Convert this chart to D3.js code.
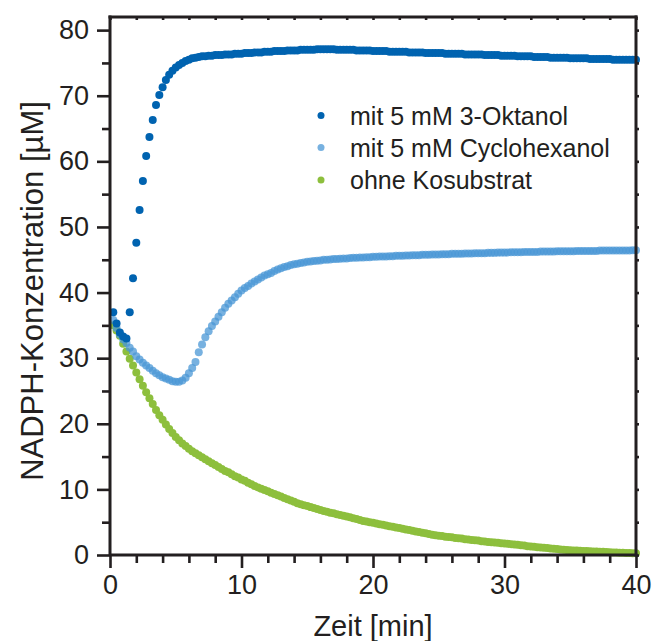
<!DOCTYPE html>
<html>
<head>
<meta charset="utf-8">
<script src="https://cdn.jsdelivr.net/npm/d3@7/dist/d3.min.js"></script>
<style>
  html, body { margin: 0; padding: 0; background: #ffffff; }
  svg { display: block; }
  text { font-family: "Liberation Sans", Arial, Helvetica, sans-serif; fill: #231f20; }
</style>
</head>
<body>
<svg id="chart" width="653" height="641"></svg>
<script>
// Measurements were taken every 15 s (0.25 min), from 0.25 to 40 min.
const sampleInterval = 0.25; // min
const sampleCount = 160;

// NADPH concentration [µM] with 5 mM 3-octanol
const oktanol = [
  37.0, 35.3, 33.9, 33.3, 33.0, 37.0, 42.2, 47.6, 52.6, 57.0, 60.8, 63.7, 66.3, 68.6, 70.1, 71.3,
  72.4, 73.2, 73.8, 74.3, 74.7, 75.0, 75.3, 75.5, 75.7, 75.8, 75.9, 76.0, 76.0, 76.1, 76.1, 76.2,
  76.2, 76.2, 76.3, 76.3, 76.3, 76.4, 76.4, 76.4,
  76.5, 76.5, 76.5, 76.6, 76.6, 76.6, 76.7, 76.7,
  76.7, 76.8, 76.8, 76.8, 76.8, 76.9, 76.9, 76.9,
  76.9, 77.0, 77.0, 77.0, 77.0, 77.0, 77.1, 77.1,
  77.1, 77.1, 77.1, 77.1, 77.0, 77.0, 77.0, 77.0,
  77.0, 77.0, 76.9, 76.9, 76.9, 76.9, 76.9, 76.8,
  76.8, 76.8, 76.8, 76.8, 76.7, 76.7, 76.7, 76.7,
  76.7, 76.7, 76.6, 76.6, 76.6, 76.6, 76.6, 76.5,
  76.5, 76.5, 76.5, 76.5, 76.5, 76.4, 76.4, 76.4,
  76.4, 76.4, 76.4, 76.3, 76.3, 76.3, 76.3, 76.3,
  76.3, 76.2, 76.2, 76.2, 76.2, 76.2, 76.1, 76.1,
  76.1, 76.1, 76.1, 76.0, 76.0, 76.0, 76.0, 76.0,
  75.9, 75.9, 75.9, 75.9, 75.9, 75.8, 75.8, 75.8,
  75.8, 75.8, 75.8, 75.7, 75.7, 75.7, 75.7, 75.7,
  75.7, 75.6, 75.6, 75.6, 75.6, 75.6, 75.6, 75.6,
  75.5, 75.5, 75.5, 75.5, 75.5, 75.5, 75.5, 75.5
];

// NADPH concentration [µM] with 5 mM cyclohexanol
const cyclohexanol = [
  35.8, 34.6, 33.6, 32.9, 32.3, 31.6, 31.0, 30.3, 29.8, 29.3, 28.9, 28.5, 28.1, 27.7, 27.4, 27.1,
  26.9, 26.7, 26.5, 26.4, 26.4, 26.6, 27.0, 27.7, 28.5, 29.4, 30.9, 32.1, 33.2, 34.1, 34.9, 35.6,
  36.3, 37.0, 37.7, 38.3, 38.8, 39.3, 39.8, 40.3, 40.7, 41.0, 41.4, 41.7, 42.0, 42.3, 42.6, 42.8,
  43.0, 43.3, 43.5, 43.7, 43.9, 44.0, 44.2, 44.3, 44.4, 44.5, 44.6, 44.7,
  44.75, 44.8, 44.85, 44.9,
  45.0, 45.0, 45.05, 45.1, 45.1, 45.15, 45.2, 45.2,
  45.25, 45.3, 45.3, 45.35, 45.35, 45.4, 45.4, 45.45,
  45.45, 45.5, 45.5, 45.5, 45.55, 45.55, 45.6, 45.6,
  45.6, 45.65, 45.65, 45.7, 45.7, 45.7, 45.75, 45.75,
  45.75, 45.8, 45.8, 45.8, 45.85, 45.85, 45.85, 45.9,
  45.9, 45.9, 45.9, 45.95, 45.95, 45.95, 46.0, 46.0,
  46.0, 46.0, 46.05, 46.05, 46.05, 46.1, 46.1, 46.1,
  46.1, 46.15, 46.15, 46.15, 46.15, 46.2, 46.2, 46.2,
  46.2, 46.2, 46.25, 46.25, 46.25, 46.25, 46.25, 46.3,
  46.3, 46.3, 46.3, 46.3, 46.3, 46.35, 46.35, 46.35,
  46.35, 46.35, 46.35, 46.35, 46.4, 46.4, 46.4, 46.4,
  46.4, 46.4, 46.4, 46.4, 46.4, 46.4, 46.45, 46.45
];

// NADPH concentration [µM] without co-substrate
const ohneKosubstrat = [
  35.0, 34.2, 33.4, 32.2, 31.0, 29.9, 28.9, 27.8, 26.8, 25.8, 24.8, 23.9, 23.0, 22.1, 21.3, 20.6,
  19.9, 19.2, 18.6, 18.0, 17.5, 17.0, 16.6, 16.2, 15.8, 15.5, 15.2, 14.9, 14.6, 14.3, 14.0, 13.7,
  13.4, 13.1, 12.8, 12.6, 12.3, 12.0, 11.8, 11.5, 11.3, 11.0, 10.8, 10.5, 10.3, 10.1, 9.9, 9.7,
  9.5, 9.3, 9.1, 8.9, 8.7, 8.5, 8.3, 8.1,
  7.9, 7.75, 7.6, 7.45, 7.3, 7.15, 7.0, 6.85,
  6.7, 6.6, 6.45, 6.35, 6.2, 6.1, 6.0, 5.85,
  5.75, 5.6, 5.5, 5.35, 5.2, 5.1, 5.0, 4.9,
  4.8, 4.7, 4.6, 4.5, 4.4, 4.3, 4.2, 4.1,
  4.0, 3.9, 3.8, 3.7, 3.6, 3.5, 3.4, 3.3,
  3.2, 3.1, 3.0, 2.95, 2.9, 2.8, 2.75, 2.7,
  2.6, 2.55, 2.5, 2.4, 2.35, 2.3, 2.25, 2.2,
  2.1, 2.05, 2.0, 1.95, 1.9, 1.85, 1.8, 1.75,
  1.7, 1.65, 1.6, 1.55, 1.5, 1.45, 1.35, 1.3,
  1.25, 1.2, 1.15, 1.1, 1.05, 1.0, 0.95, 0.9,
  0.85, 0.8, 0.75, 0.72, 0.7, 0.67, 0.65, 0.62,
  0.6, 0.57, 0.55, 0.52, 0.5, 0.48, 0.45, 0.43,
  0.4, 0.38, 0.36, 0.34, 0.32, 0.3, 0.28, 0.26
];

const seriesNames = ["mit 5 mM 3-Oktanol", "mit 5 mM Cyclohexanol", "ohne Kosubstrat"];
const seriesColors = ["#0063b0", "#4a97d6", "#8dbf3d"];
const seriesOpacity = [1, 0.75, 1];

const xTicks = [0, 10, 20, 30, 40];
const xMinorTicks = [2, 4, 6, 8, 12, 14, 16, 18, 22, 24, 26, 28, 32, 34, 36, 38];
const yTicks = [0, 10, 20, 30, 40, 50, 60, 70, 80];
const yMinorTicks = [5, 15, 25, 35, 45, 55, 65, 75];

const xLabel = "Zeit [min]";
const yLabel = "NADPH-Konzentration [µM]";

// ---------------------------------------------------------------------------
const svg = d3.select("#chart");
const plotLeft = 110, plotRight = 636, plotTop = 17, plotBottom = 555;

const x = d3.scaleLinear().domain([0, 40]).range([plotLeft, plotRight]);
const y = d3.scaleLinear().domain([0, 82]).range([plotBottom, plotTop]);

const times = d3.range(sampleCount).map(i => (i + 1) * sampleInterval);
const series = [oktanol, cyclohexanol, ohneKosubstrat].map((vals, k) => ({
  name: seriesNames[k],
  color: seriesColors[k],
  opacity: seriesOpacity[k],
  points: vals.map((v, i) => ({ t: times[i], v }))
}));

// Data points: green first, dark blue on top
const drawOrder = [2, 1, 0];
drawOrder.forEach(k => {
  svg.append("g")
    .selectAll("circle")
    .data(series[k].points)
    .join("circle")
    .attr("cx", d => x(d.t))
    .attr("cy", d => y(d.v))
    .attr("r", 4)
    .attr("fill", series[k].color)
    .attr("fill-opacity", series[k].opacity);
});

// Axes
const axisColor = "#231f20";
function styleAxis(g) {
  g.select(".domain").remove();
  g.selectAll(".tick line").attr("stroke", axisColor).attr("stroke-width", 2.6);
  g.selectAll(".tick text")
    .style("font-size", "27px")
    .attr("fill", axisColor);
}

svg.append("g")
  .attr("transform", `translate(0,${plotBottom})`)
  .call(d3.axisBottom(x).tickValues(xTicks).tickSize(13).tickPadding(7).tickFormat(d3.format("d")))
  .call(styleAxis);
svg.append("g")
  .attr("transform", `translate(0,${plotBottom})`)
  .call(d3.axisBottom(x).tickValues(xMinorTicks).tickSize(8).tickFormat(""))
  .call(styleAxis);

svg.append("g")
  .attr("transform", `translate(${plotLeft},0)`)
  .call(d3.axisLeft(y).tickValues(yTicks).tickSize(13).tickPadding(8).tickFormat(d3.format("d")))
  .call(styleAxis);
svg.append("g")
  .attr("transform", `translate(${plotLeft},0)`)
  .call(d3.axisLeft(y).tickValues(yMinorTicks).tickSize(8).tickFormat(""))
  .call(styleAxis);

// Small ticks on the top and right frame
svg.append("g")
  .attr("transform", `translate(${plotRight},0)`)
  .call(d3.axisRight(y).tickValues(yTicks.concat(yMinorTicks)).tickSize(3).tickFormat(""))
  .call(styleAxis);
svg.append("g")
  .attr("transform", `translate(0,${plotTop})`)
  .call(d3.axisBottom(x).tickValues(xTicks.concat(xMinorTicks)).tickSize(3).tickFormat(""))
  .call(styleAxis);

// Frame
const frame = svg.append("g").attr("stroke", axisColor).attr("stroke-width", 3).attr("fill", "none");
frame.append("line").attr("x1", plotLeft).attr("x2", plotLeft).attr("y1", plotTop - 1.5).attr("y2", plotBottom);
frame.append("line").attr("x1", plotLeft).attr("x2", plotRight + 1.5).attr("y1", plotBottom).attr("y2", plotBottom);
frame.append("line").attr("x1", plotRight).attr("x2", plotRight).attr("y1", plotTop - 1.5).attr("y2", plotBottom + 1.5);
frame.append("line").attr("x1", plotLeft - 1.5).attr("x2", plotRight + 1.5).attr("y1", plotTop).attr("y2", plotTop);

// Axis titles
svg.append("text")
  .attr("x", (plotLeft + plotRight) / 2)
  .attr("y", 636)
  .attr("text-anchor", "middle")
  .style("font-size", "29px")
  .text(xLabel);

svg.append("text")
  .attr("transform", `translate(43,${(plotTop + plotBottom) / 2 + 5}) rotate(-90)`)
  .attr("text-anchor", "middle")
  .style("font-size", "31px")
  .text(yLabel);

// Legend
const legend = svg.append("g").attr("transform", "translate(321,0)");
const legendRows = [115.5, 147.5, 180];
series.forEach((s, k) => {
  legend.append("circle")
    .attr("cx", 0)
    .attr("cy", legendRows[k])
    .attr("r", 3.5)
    .attr("fill", s.color)
    .attr("fill-opacity", s.opacity);
  legend.append("text")
    .attr("x", 29)
    .attr("y", legendRows[k] + 9)
    .style("font-size", "25px")
    .text(s.name);
});
</script>
</body>
</html>
